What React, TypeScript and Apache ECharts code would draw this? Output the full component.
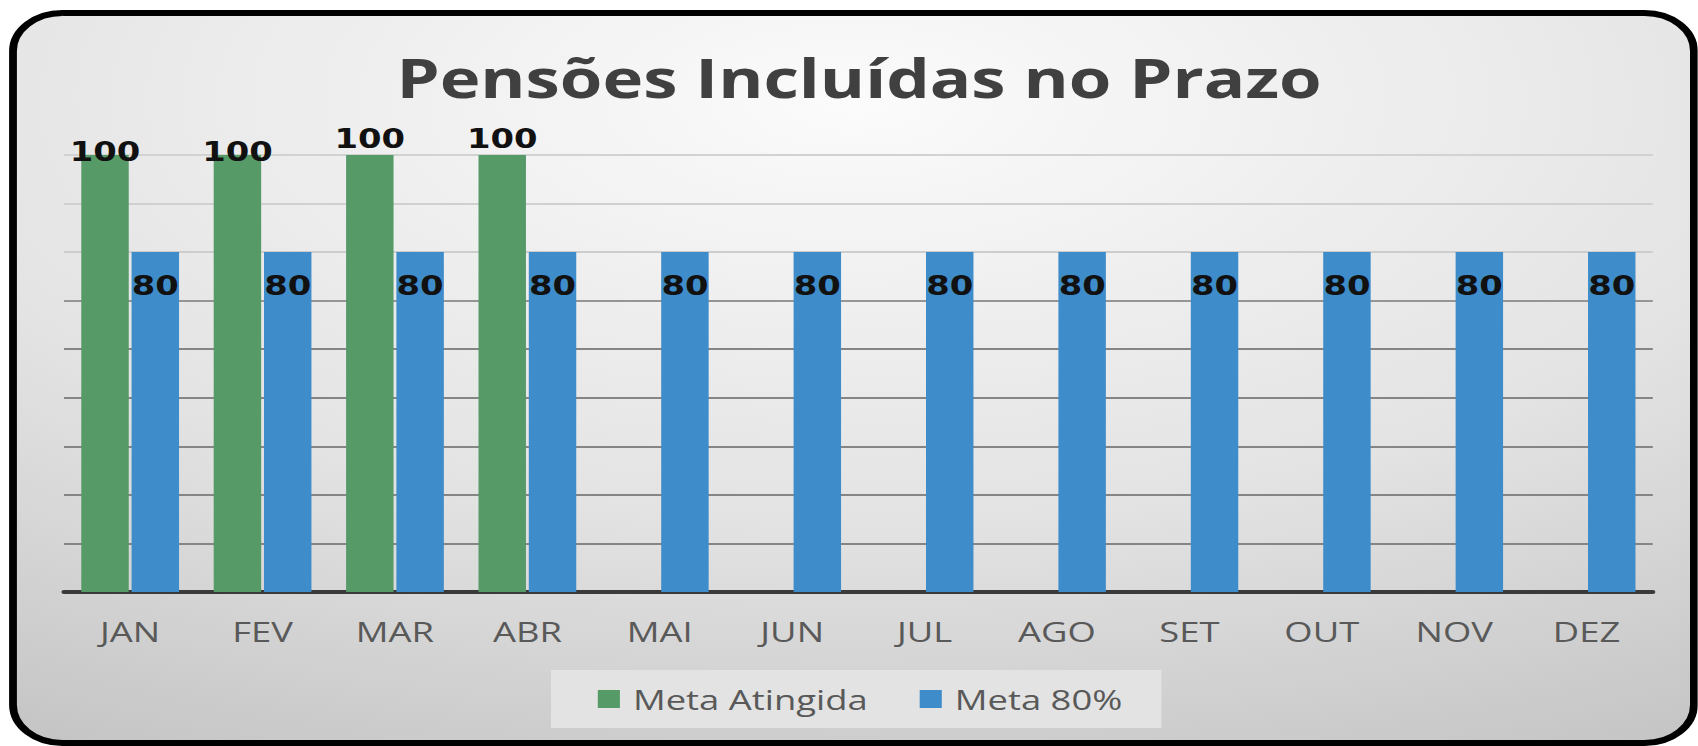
import React, { useEffect, useRef } from 'react';
import * as echarts from 'echarts';

const chartTitle = 'Pensões Incluídas no Prazo';
const categories = ['JAN', 'FEV', 'MAR', 'ABR', 'MAI', 'JUN', 'JUL', 'AGO', 'SET', 'OUT', 'NOV', 'DEZ'];
const seriesNames = ['Meta Atingida', 'Meta 80%'];
const metaAtingida: (number | null)[] = [100, 100, 100, 100, null, null, null, null, null, null, null, null];
const meta80: number[] = [80, 80, 80, 80, 80, 80, 80, 80, 80, 80, 80, 80];
const yMin = 10;
const yMax = 100;
const yStep = 10;

// the reference picture is stretched horizontally; render narrower and stretch
const S = 1.3;
const W = 1698 / S;
const H = 746;

export default function App() {
  const ref = useRef<HTMLDivElement>(null);
  useEffect(() => {
    if (!ref.current) return;
    const chart = echarts.init(ref.current, null, { renderer: 'svg' });
    const labelFont = { fontFamily: '"DejaVu Sans", Verdana, sans-serif', fontWeight: 'bold' as const, fontSize: 26, color: '#111111' };
    const gridColors = ['rgba(0,0,0,0)', '#858585', '#858585', '#858585', '#858585', '#858585', '#959595', '#cdcdcd', '#d0d0d0', '#d2d2d2'];
    chart.setOption({
      animation: false,
      graphic: [
        {
          type: 'rect',
          z: -10,
          silent: true,
          shape: { x: 10, y: 13, width: 1293, height: 730, r: 38 },
          style: {
            fill: new echarts.graphic.RadialGradient(0.5, 0.12, 1.15, [
              { offset: 0, color: '#fbfbfb' },
              { offset: 0.5, color: '#e3e3e3' },
              { offset: 1, color: '#bababa' },
            ]),
            stroke: '#000000',
            lineWidth: 6,
          },
        },
        {
          type: 'text',
          x: 660.8,
          y: 77,
          style: {
            text: chartTitle,
            fill: '#404040',
            font: 'bold 53px "Open Sans", sans-serif',
            textAlign: 'center',
            textVerticalAlign: 'middle',
          },
        },
      ],
      grid: { left: 49.2, right: W - 1653 / S, top: 155, bottom: 154, containLabel: false },
      legend: {
        data: seriesNames,
        left: 551 / S,
        top: 670,
        backgroundColor: '#e3e3e3',
        padding: [15, 30, 15, 36],
        itemWidth: 17,
        itemHeight: 18,
        itemGap: 40,
        icon: 'rect',
        textStyle: { fontFamily: '"Open Sans", sans-serif', fontSize: 28, lineHeight: 28, color: '#595959', padding: [0, 0, 0, 5] },
      },
      xAxis: {
        type: 'category',
        data: categories,
        axisTick: { show: false },
        axisLine: { lineStyle: { color: '#3a3a3a', width: 4 } },
        axisLabel: { fontFamily: '"Open Sans", sans-serif', fontSize: 28, color: '#595959', margin: 25 },
      },
      yAxis: {
        type: 'value',
        min: yMin,
        max: yMax,
        interval: yStep,
        axisLabel: { show: false },
        axisLine: { show: false },
        axisTick: { show: false },
        splitLine: { lineStyle: { color: gridColors, width: 2 } },
      },
      series: [
        {
          name: seriesNames[0],
          type: 'bar',
          barWidth: 36.5,
          barGap: '6%',
          data: metaAtingida.map((v, i) => (i < 2 && v != null ? { value: v, label: { offset: [0, 13] } } : v)),
          itemStyle: { color: '#559a67' },
          label: { show: true, position: 'top', distance: 3, ...labelFont },
        },
        {
          name: seriesNames[1],
          type: 'bar',
          barWidth: 36.5,
          data: meta80,
          itemStyle: { color: '#3f8cca' },
          label: { show: true, position: 'insideTop', distance: 21, ...labelFont },
        },
      ],
    });
    return () => chart.dispose();
  }, []);
  return (
    <div style={{ position: 'absolute', left: 0, top: 0, width: W, height: H, transform: `scaleX(${S})`, transformOrigin: '0 0' }}>
      <div ref={ref} style={{ width: W, height: H }} />
    </div>
  );
}
